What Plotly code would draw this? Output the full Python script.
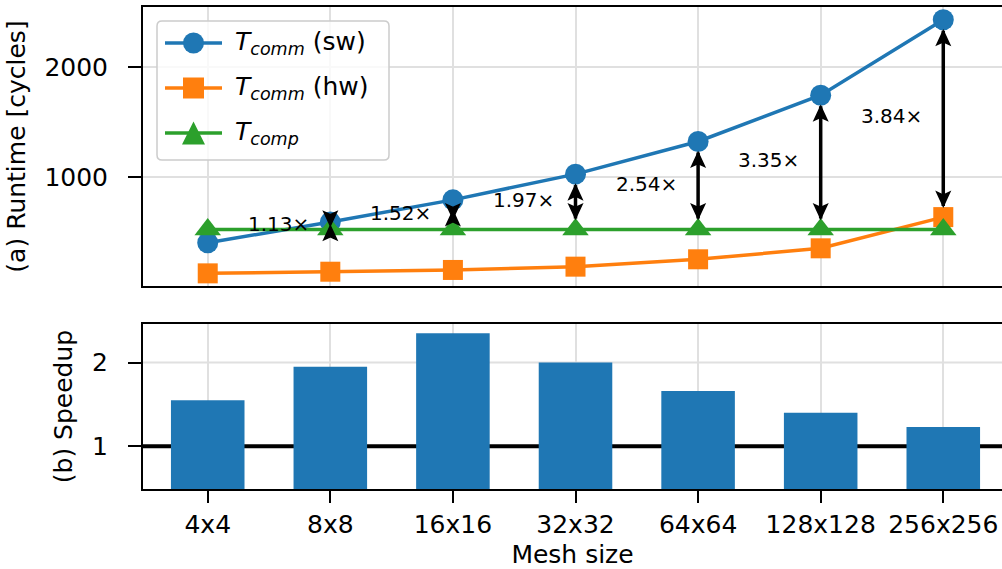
import plotly.graph_objects as go

# Mesh sizes and measured runtimes (cycles)
mesh = ["4x4", "8x8", "16x16", "32x32", "64x64", "128x128", "256x256"]
t_comm_sw = [400, 588, 790, 1024, 1321, 1742, 2429]
t_comm_hw = [121, 136, 152, 182, 249, 349, 633]
t_comp = [520, 520, 520, 520, 520, 520, 520]
speedup = [1.55, 1.95, 2.35, 2.00, 1.66, 1.40, 1.23]

BLUE, ORANGE, GREEN = "#1f77b4", "#ff7f0e", "#2ca02c"
GRID = "#e0e0e0"
FONT = "DejaVu Sans"
W, H = 1002, 569
ML, MR, MT, MB = 143, 0, 7, 80
PW, PH = W - ML - MR, H - MT - MB

X_RANGE = [-0.528, 6.479]
Y_RANGE_A = [6, 2545]
Y_RANGE_B = [0.49, 2.46]

idx = list(range(len(mesh)))


def px_x(p):
    return (p - ML) / PW


def px_y(p):
    return (H - MB - p) / PH


split_top = px_y(286)
split_bot = px_y(324)
# cycles per screen pixel on the runtime axis
CYC_PER_PX = (Y_RANGE_A[1] - Y_RANGE_A[0]) / ((1 - split_top) * PH)

fig = go.Figure()

# (a) runtime lines
fig.add_trace(go.Scatter(x=idx, y=t_comm_sw, mode="lines+markers",
                         line=dict(color=BLUE, width=3.5),
                         marker=dict(symbol="circle", size=21, color=BLUE),
                         xaxis="x", yaxis="y", showlegend=False))
fig.add_trace(go.Scatter(x=idx, y=t_comm_hw, mode="lines+markers",
                         line=dict(color=ORANGE, width=3.5),
                         marker=dict(symbol="square", size=20, color=ORANGE),
                         xaxis="x", yaxis="y", showlegend=False))
fig.add_trace(go.Scatter(x=idx, y=t_comp, mode="lines+markers",
                         line=dict(color=GREEN, width=3.5),
                         marker=dict(symbol="triangle-up", size=23, color=GREEN),
                         xaxis="x", yaxis="y", showlegend=False))

# (b) speedup bars
fig.add_trace(go.Bar(x=idx, y=speedup, width=0.6, marker=dict(color=BLUE, line=dict(width=0)),
                     xaxis="x2", yaxis="y2", showlegend=False))

annotations = []
shapes = []

# double-headed arrows from the software comm time to the bound, with ratio labels
SHRINK = 11      # px kept clear at each end
HEAD_L, HEAD_W, NOTCH = 14, 6.5, 3
for i in range(1, len(mesh)):
    bound = max(t_comp[i], t_comm_hw[i])
    ratio = t_comm_sw[i] / bound
    y_top = t_comm_sw[i] - SHRINK * CYC_PER_PX
    y_bot = bound + SHRINK * CYC_PER_PX
    if y_top < y_bot:                       # too short: both tips collapse to the middle
        y_top = y_bot = (t_comm_sw[i] + bound) / 2
    shapes.append(dict(type="line", xref="x", yref="y", x0=i, x1=i, y0=y_bot, y1=y_top,
                       line=dict(color="black", width=3.5)))
    for tip, sgn in ((y_top, 1), (y_bot, -1)):
        shapes.append(dict(type="path", xref="x", yref="y", xsizemode="pixel", ysizemode="pixel",
                           xanchor=i, yanchor=tip,
                           path=(f"M{-HEAD_W},{-sgn * HEAD_L} L0,0 L{HEAD_W},{-sgn * HEAD_L} "
                                 f"L0,{-sgn * (HEAD_L - NOTCH)} Z"),
                           fillcolor="black", line=dict(color="black", width=1.5)))
    annotations.append(dict(
        x=i - 0.424, y=(t_comm_sw[i] + bound) / 2, xref="x", yref="y",
        text=f"{ratio:.2f}×", showarrow=False, xanchor="center", yanchor="middle",
        yshift=2, font=dict(family=FONT, size=20, color="black")))

# reference line at speedup = 1 and the remaining horizontal grid line, under the bars
shapes.append(dict(type="line", xref="x2 domain", x0=0, x1=1, yref="y2", y0=2, y1=2,
                   line=dict(color=GRID, width=2), layer="below"))
shapes.append(dict(type="line", xref="x2 domain", x0=0, x1=1, yref="y2", y0=1, y1=1,
                   line=dict(color="black", width=4), layer="below"))

# key box
LX0, LY0, LX1, LY1, R = 157, 21, 389, 160, 5
bw, bh = LX1 - LX0, LY1 - LY0
box_path = (f"M{R},0 H{bw - R} Q{bw},0 {bw},{-R} V{-(bh - R)} Q{bw},{-bh} {bw - R},{-bh} "
            f"H{R} Q0,{-bh} 0,{-(bh - R)} V{-R} Q0,0 {R},0 Z")
shapes.append(dict(type="path", xref="paper", yref="paper", xsizemode="pixel", ysizemode="pixel",
                   xanchor=px_x(LX0), yanchor=px_y(LY0), path=box_path,
                   fillcolor="rgba(255,255,255,0.8)", line=dict(color="#cccccc", width=1.5)))

key_items = [
    ("<i>T</i><sub><i>comm</i></sub> (sw)", BLUE, "circle"),
    ("<i>T</i><sub><i>comm</i></sub> (hw)", ORANGE, "square"),
    ("<i>T</i><sub><i>comp</i></sub>", GREEN, "triangle"),
]
for k, (label, color, sym) in enumerate(key_items):
    yc = 43 + 45 * k
    common = dict(xref="paper", yref="paper", xsizemode="pixel", ysizemode="pixel",
                  xanchor=px_x(193.5), yanchor=px_y(yc))
    shapes.append(dict(type="line", x0=-28.5, x1=28.5, y0=0, y1=0,
                       line=dict(color=color, width=3.5), **common))
    if sym == "circle":
        shapes.append(dict(type="circle", x0=-10.5, x1=10.5, y0=-10.5, y1=10.5,
                           fillcolor=color, line=dict(width=0), **common))
    elif sym == "square":
        shapes.append(dict(type="rect", x0=-10.5, x1=10.5, y0=-10.5, y1=10.5,
                           fillcolor=color, line=dict(width=0), **common))
    else:
        shapes.append(dict(type="path", path="M-11.5,-11.5 L11.5,-11.5 L0,11.5 Z",
                           fillcolor=color, line=dict(width=0), **common))
    annotations.append(dict(x=px_x(233), y=px_y(yc), xref="paper", yref="paper",
                            text=label, showarrow=False, xanchor="left", yanchor="middle",
                            font=dict(family=FONT, size=25, color="black")))

axis_common = dict(showline=True, linecolor="black", linewidth=2,
                   gridcolor=GRID, gridwidth=2, zeroline=False,
                   tickfont=dict(family=FONT, size=25, color="black"),
                   tickcolor="black", tickwidth=2)

fig.update_layout(
    width=W, height=H, margin=dict(l=ML, r=MR, t=MT, b=MB),
    paper_bgcolor="white", plot_bgcolor="white",
    font=dict(family=FONT, size=25, color="black"),
    xaxis=dict(domain=[0, 1], anchor="y", range=X_RANGE, tickvals=idx,
               showticklabels=False, ticks="", mirror=True, showgrid=True, **axis_common),
    yaxis=dict(domain=[split_top, 1], anchor="x", range=Y_RANGE_A, tickvals=[1000, 2000],
               ticks="outside", ticklen=13, ticklabelstandoff=15, mirror=False,
               title=dict(text="(a) Runtime [cycles]", standoff=12,
                          font=dict(family=FONT, size=25, color="black")),
               **axis_common),
    xaxis2=dict(domain=[0, 1], anchor="y2", matches="x", range=X_RANGE,
                tickvals=idx, ticktext=mesh, ticks="outside", ticklen=12, mirror=True,
                title=dict(text="Mesh size", standoff=8,
                           font=dict(family=FONT, size=25, color="black")),
                **axis_common),
    yaxis2=dict(domain=[0, split_bot], anchor="x2", range=Y_RANGE_B, tickvals=[1, 2],
                ticks="outside", ticklen=13, ticklabelstandoff=15, mirror=False,
                showgrid=False,
                title=dict(text="(b) Speedup", standoff=12,
                           font=dict(family=FONT, size=25, color="black")),
                **axis_common),
    annotations=annotations,
    shapes=shapes,
    showlegend=False,
)

fig.write_html("out.html")
